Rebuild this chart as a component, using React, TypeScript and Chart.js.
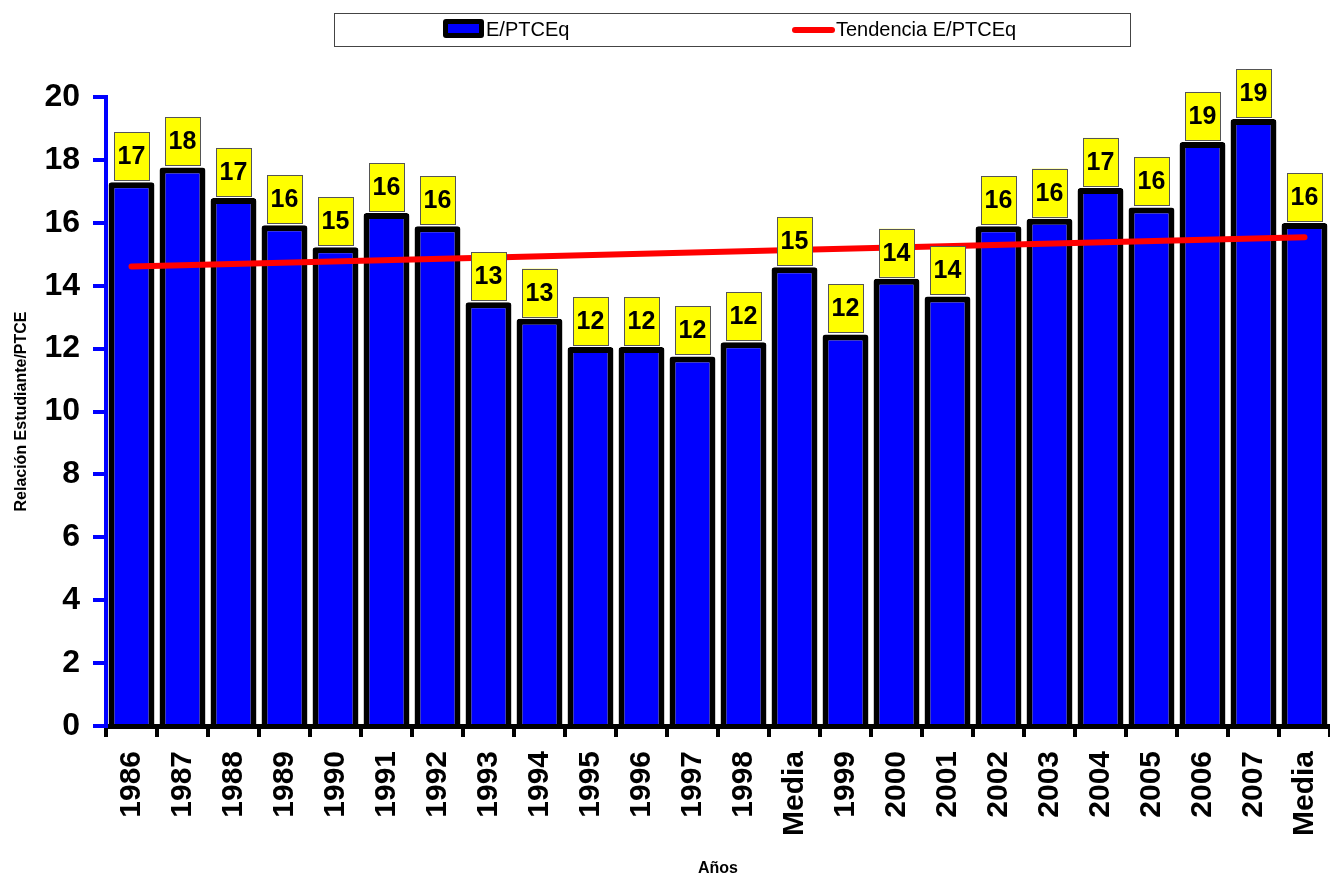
import React, { useEffect, useRef } from 'react';
import { Chart, registerables } from 'chart.js';

Chart.register(...registerables);

const categories = [
  '1986', '1987', '1988', '1989', '1990', '1991', '1992', '1993', '1994', '1995', '1996', '1997', '1998', 'Media',
  '1999', '2000', '2001', '2002', '2003', '2004', '2005', '2006', '2007', 'Media',
];

const ratioValues = [
  17.29, 17.76, 16.79, 15.92, 15.22, 16.31, 15.89, 13.47, 12.95, 12.05, 12.05, 11.75, 12.2, 14.59,
  12.45, 14.22, 13.66, 15.89, 16.13, 17.11, 16.49, 18.57, 19.3, 15.99,
];

// Trend line: read at its two ends, straight between them
const trendValues: (number | null)[] = [
  14.61, null, null, null, null, null, null, null, null, null, null, null, null, null,
  null, null, null, null, null, null, null, null, null, 15.54,
];

const yTickValues = [0, 2, 4, 6, 8, 10, 12, 14, 16, 18, 20];

const seriesName = 'E/PTCEq';
const trendName = 'Tendencia E/PTCEq';
const yTitle = 'Relación Estudiante/PTCE';
const xTitle = 'Años';

const FONT = "'Liberation Sans', Arial, sans-serif";

const labelPlugin = {
  id: 'valueBoxes',
  afterDatasetsDraw(chart: any) {
    const ctx = chart.ctx;
    const idx = chart.data.datasets.findIndex((d: any) => d.type === 'bar');
    const meta = chart.getDatasetMeta(idx);
    const data = chart.data.datasets[idx].data as number[];
    ctx.save();
    meta.data.forEach((bar: any, i: number) => {
      const w = 35;
      const h = 48;
      const x = bar.x - w / 2;
      const y = bar.y - 2 - h;
      ctx.fillStyle = '#FFFF00';
      ctx.fillRect(x, y, w, h);
      ctx.strokeStyle = '#555555';
      ctx.lineWidth = 1;
      ctx.strokeRect(Math.round(x) + 0.5, Math.round(y) + 0.5, w, h);
      ctx.fillStyle = '#000000';
      ctx.font = `bold 25px ${FONT}`;
      ctx.textAlign = 'center';
      ctx.textBaseline = 'middle';
      ctx.fillText(String(Math.round(data[i])), bar.x, y + h / 2 + 1);
    });
    ctx.restore();
  },
};

const legendPlugin = {
  id: 'boxLegend',
  afterDraw(chart: any) {
    const ctx = chart.ctx;
    ctx.save();
    ctx.strokeStyle = '#444444';
    ctx.lineWidth = 1;
    ctx.strokeRect(334.5, 13.5, 796, 33);
    // bar icon
    ctx.fillStyle = '#000000';
    ctx.beginPath();
    (ctx as any).roundRect(443, 19, 41, 19, 3);
    ctx.fill();
    ctx.fillStyle = '#0000FF';
    ctx.fillRect(448, 24, 31, 9);
    ctx.font = `20px ${FONT}`;
    ctx.fillStyle = '#000000';
    ctx.textAlign = 'left';
    ctx.textBaseline = 'middle';
    ctx.fillText(seriesName, 486, 30);
    // line icon
    ctx.strokeStyle = '#FF0000';
    ctx.lineWidth = 6;
    ctx.lineCap = 'round';
    ctx.beginPath();
    ctx.moveTo(795, 30);
    ctx.lineTo(832, 30);
    ctx.stroke();
    ctx.fillText(trendName, 836, 30);
    ctx.restore();
  },
};

export default function App() {
  const canvasRef = useRef<HTMLCanvasElement | null>(null);

  useEffect(() => {
    if (!canvasRef.current) return;
    const chart = new Chart(canvasRef.current, {
      type: 'bar',
      data: {
        labels: categories,
        datasets: [
          {
            type: 'line',
            label: trendName,
            data: trendValues,
            borderColor: '#FF0000',
            borderWidth: 6,
            borderCapStyle: 'round',
            pointRadius: 0,
            spanGaps: true,
            fill: false,
            order: 0,
          } as any,
          {
            type: 'bar',
            label: seriesName,
            data: ratioValues,
            backgroundColor: '#0000FF',
            borderColor: '#000000',
            borderWidth: 6,
            borderRadius: 3,
            borderSkipped: 'start',
            barPercentage: 0.9,
            categoryPercentage: 1,
            order: 1,
          } as any,
        ],
      },
      options: {
        responsive: false,
        animation: false,
        layout: { padding: { top: 97, left: 0, right: 0, bottom: 0 } },
        plugins: {
          legend: { display: false },
          tooltip: { enabled: false },
        },
        scales: {
          x: {
            offset: true,
            grid: {
              offset: true,
              drawOnChartArea: false,
              drawTicks: true,
              tickLength: 11,
              color: '#000000',
              lineWidth: 4,
            },
            border: { display: true, color: '#000000', width: 5 },
            ticks: {
              minRotation: 90,
              maxRotation: 90,
              autoSkip: false,
              padding: 14,
              color: '#000000',
              font: { family: FONT, size: 30, weight: 'bold' },
            },
            title: {
              display: true,
              text: xTitle,
              color: '#000000',
              font: { family: FONT, size: 16, weight: 'bold' },
              padding: { top: 0, bottom: 2 },
            },
            afterFit(scale: any) {
              scale.height = 154;
              scale.paddingLeft = 0;
              scale.paddingRight = 0;
            },
          },
          y: {
            min: 0,
            max: 20,
            afterBuildTicks(scale: any) {
              scale.ticks = yTickValues.map((v) => ({ value: v }));
            },
            grid: {
              drawOnChartArea: false,
              drawTicks: true,
              tickLength: 13,
              color: '#0000FF',
              lineWidth: 4,
            },
            border: { display: true, color: '#0000FF', width: 4 },
            ticks: {
              padding: 13,
              color: '#000000',
              font: { family: FONT, size: 32, weight: 'bold' },
            },
            title: {
              display: true,
              text: yTitle,
              color: '#000000',
              font: { family: FONT, size: 16, weight: 'bold' },
              padding: { top: 12, bottom: 0 },
            },
            afterFit(scale: any) {
              scale.width = 106;
            },
          },
        },
      },
      plugins: [labelPlugin, legendPlugin],
    } as any);
    return () => chart.destroy();
  }, []);

  return (
    <div style={{ position: 'absolute', left: 0, top: 0, width: 1330, height: 880, background: '#ffffff' }}>
      <canvas ref={canvasRef} width={1330} height={880} style={{ display: 'block' }} />
    </div>
  );
}
